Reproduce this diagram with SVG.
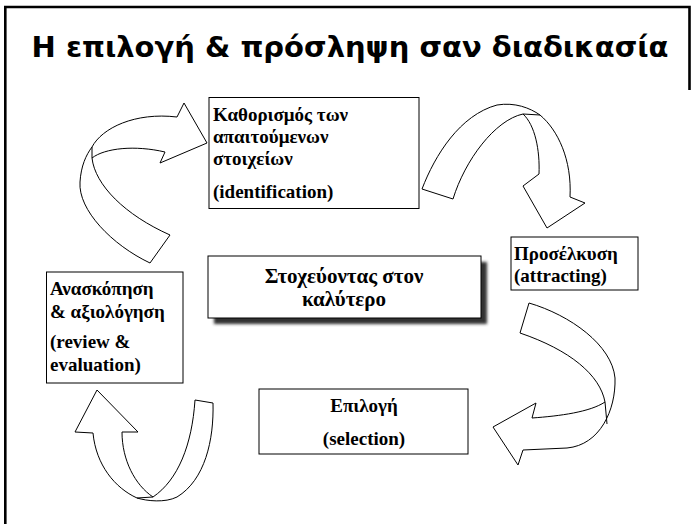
<svg xmlns="http://www.w3.org/2000/svg" width="691" height="524" viewBox="0 0 691 524">
  <defs>
    <style>
      .frame { fill: none; stroke: #000; stroke-width: 2.6; }
      .box { fill: #fff; stroke: #000; stroke-width: 1; }
      .arrow { fill: #fff; stroke: #000; stroke-width: 1; stroke-linejoin: miter; }
      .fold { fill: none; stroke: #000; stroke-width: 1; }
      .lbl { font-family: "Liberation Serif", "Times New Roman", serif; font-weight: bold; font-size: 19px; fill: #000; }
      .big { font-size: 21px; }
      .title { font-family: "DejaVu Sans", "Liberation Sans", sans-serif; font-weight: bold; font-size: 29px; fill: #000; }
    </style>
    <filter id="shadow" x="-10%" y="-30%" width="130%" height="170%">
      <feGaussianBlur stdDeviation="1.8"/>
    </filter>
  </defs>

  <rect width="691" height="524" fill="#fff"/>

  <!-- slide border -->
  <path class="frame" d="M5.3,524 V7 H689.5 V90"/>

  <text class="title" x="350" y="57" text-anchor="middle">Η επιλογή &amp; πρόσληψη σαν διαδικασία</text>

  <!-- curved block arrows between the stages -->
  <g id="connectors">
    <!-- review -> identification -->
    <path class="arrow" d="M150,263 C112,245 78,210 80,182 C81,166 86,155 92,147 C102,128 135,112 177,117 L184,103 L207,143 L160,163 L165,152 C135,145 105,148 92,158 C95,185 125,215 170,235 Z"/>
    <path class="fold" d="M92,147 L92,158"/>
    <!-- identification -> attracting -->
    <path class="arrow" d="M422,189 C435,155 460,115 497,105 C515,102 530,108 540,115 C558,130 572,160 570,197 L585,203 L547,228 L523,186 L539,174 C540,150 535,125 523,114 C495,120 465,160 453,199 Z"/>
    <path class="fold" d="M523,114 L540,115"/>
    <!-- attracting -> selection -->
    <path class="arrow" d="M529,303 C570,315 612,345 615,378 C616,410 600,445 567,448 L523,450 L518,465 L493,427 L536,403 L532,418 C560,416 590,412 605,402 C600,375 570,350 520,333 Z"/>
    <path class="fold" d="M605,402 L607,424"/>
    <!-- selection -> review -->
    <path class="arrow" d="M213,403 C214,440 205,480 177,497 C165,503 147,501 137,498 C115,488 96,465 93,433 L75,432 L97,390 L138,432 L122,432 C122,460 135,485 153,497 C178,480 192,445 195,400 Z"/>
    <path class="fold" d="M137,498 L153,497"/>
  </g>

  <g id="identification">
    <rect class="box" x="209" y="97.5" width="210" height="111"/>
    <text class="lbl" x="213" y="121">Καθορισμός των</text>
    <text class="lbl" x="213" y="143">απαιτούμενων</text>
    <text class="lbl" x="213" y="165">στοιχείων</text>
    <text class="lbl" x="213" y="198">(identification)</text>
  </g>

  <g id="attracting">
    <rect class="box" x="511" y="237" width="127" height="53"/>
    <text class="lbl" x="514" y="260">Προσέλκυση</text>
    <text class="lbl" x="514" y="282">(attracting)</text>
  </g>

  <g id="goal">
    <rect x="214" y="262" width="273" height="62" fill="#333" filter="url(#shadow)"/>
    <rect class="box" x="208" y="256" width="273" height="62"/>
    <text class="lbl big" x="344" y="283" text-anchor="middle">Στοχεύοντας στον</text>
    <text class="lbl big" x="344" y="306" text-anchor="middle">καλύτερο</text>
  </g>

  <g id="review">
    <rect class="box" x="46.5" y="272" width="136.5" height="111"/>
    <text class="lbl" x="50" y="295">Ανασκόπηση</text>
    <text class="lbl" x="50" y="318">&amp; αξιολόγηση</text>
    <text class="lbl" x="50" y="348">(review &amp;</text>
    <text class="lbl" x="50" y="371">evaluation)</text>
  </g>

  <g id="selection">
    <rect class="box" x="259" y="389" width="209" height="65"/>
    <text class="lbl" x="364" y="412" text-anchor="middle">Επιλογή</text>
    <text class="lbl" x="364" y="445" text-anchor="middle">(selection)</text>
  </g>
</svg>
